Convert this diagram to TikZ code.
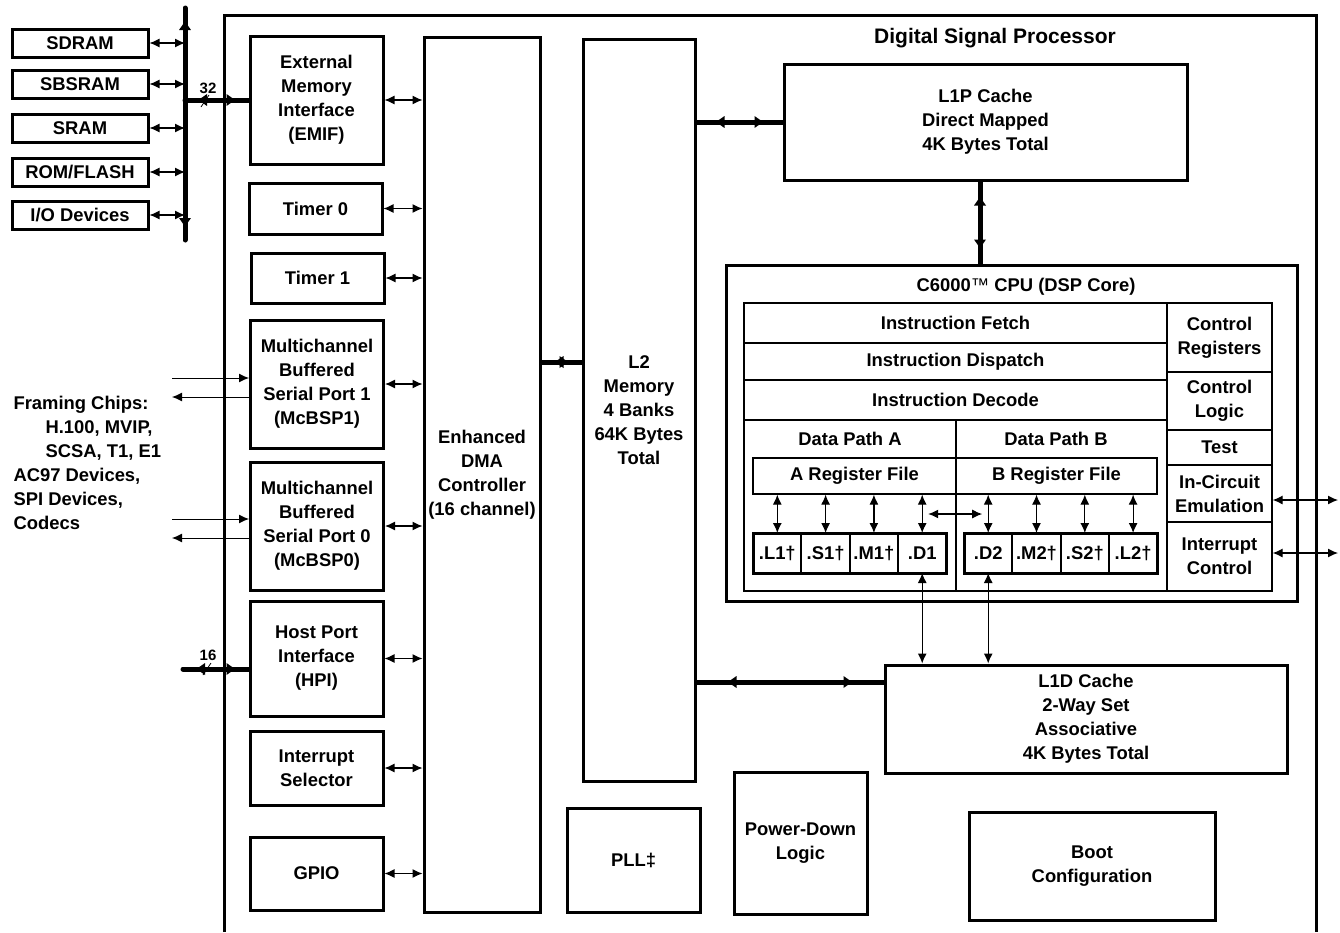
\documentclass[tikz,border=0pt]{standalone}
\usepackage{fontspec}
\setmainfont{Liberation Sans}
\usetikzlibrary{arrows.meta,positioning,decorations.markings}

\begin{document}
\begin{tikzpicture}[x=1pt,y=-1pt,>={Latex[length=10pt,width=9pt]},
    every node/.style={font=\fontsize{18.4}{24}\selectfont\bfseries}]
        \tikzstyle{blk}=[draw,line width=3pt,align=center,inner sep=0pt]
        \tikzstyle{ext}=[blk,minimum width=136pt,minimum height=28pt]
        \tikzstyle{per}=[blk,minimum width=133pt]
        \tikzstyle{cell}=[draw,line width=1.2pt,align=center,inner sep=0pt]
        \tikzstyle{unit}=[draw,line width=2pt,inner sep=0pt,outer sep=0pt,minimum width=48.3pt,minimum height=40pt]
        \tikzstyle{dbl}=[<->,line width=1.2pt]
        \tikzstyle{sig}=[->,line width=1pt]
        \tikzset{bus/.style={line width=5pt,line cap=round,postaction={decorate},decoration={markings,
            mark=at position #1 with {\arrowreversed{Latex[length=10pt,width=13pt]}},
            mark=at position -#1 with {\arrow{Latex[length=10pt,width=13pt]}}}},
            bus/.default=12pt}

        \useasboundingbox (0,0) rectangle (1340,932);

        % external memory side
        \node [ext] (sdram)  at (80,43)  {SDRAM};
        \node [ext] (sbsram) at (80,84)  {SBSRAM};
        \node [ext] (sram)   at (80,128) {SRAM};
        \node [ext] (rom)    at (80,172) {ROM/FLASH};
        \node [ext] (io)     at (80,215) {I/O Devices};
        \coordinate (bustop) at (185,8);
        \coordinate (busbot) at (185,240);
        \draw [bus] (bustop) -- (busbot);
        \foreach \m in {sdram,sbsram,sram,rom,io}
            \draw [dbl] (\m.east) -- (\m.east -| bustop);

        % the DSP
        \draw [line width=3pt] (224,932) -- (224,15) -- (1316,15) -- (1316,932);
        \node [font=\fontsize{21}{24}\selectfont\bfseries] (dsptitle) at (995,38) {Digital Signal Processor};

        % peripherals
        \node [per,minimum height=128pt] (emif)   at (316.5,100)   {External\\Memory\\Interface\\(EMIF)};
        \node [per,minimum height=51pt]  (tmr0)   at (315.5,208.5) {Timer 0};
        \node [per,minimum height=50pt]  (tmr1)   at (317.5,278)   {Timer 1};
        \node [per,minimum height=128pt] (mcbsp1) at (317,384)     {Multichannel\\Buffered\\Serial Port 1\\(McBSP1)};
        \node [per,minimum height=128pt] (mcbsp0) at (317,526)     {Multichannel\\Buffered\\Serial Port 0\\(McBSP0)};
        \node [per,minimum height=115pt] (hpi)    at (316.5,658.5) {Host Port\\Interface\\(HPI)};
        \node [per,minimum height=74pt]  (intsel) at (316.5,768)   {Interrupt\\Selector};
        \node [per,minimum height=73pt]  (gpio)   at (316.5,873.5) {GPIO};

        \node [blk,minimum width=116pt,minimum height=875pt] (edma) at (482,474.5) {Enhanced\\DMA\\Controller\\(16 channel)};
        \node [blk,minimum width=112pt,minimum height=742pt] (l2)   at (639,410)   {L2\\Memory\\4 Banks\\64K Bytes\\Total};
        \foreach \m in {emif,tmr0,tmr1,mcbsp1,mcbsp0,hpi,intsel,gpio}
            \draw [dbl] (\m.east) -- (\m.east -| edma.west);

        % 32 bit EMIF bus
        \draw [bus] (emif.west -| bustop) -- (emif.west);
        \draw [line width=0.8pt] (201,107) -- (209,95);
        \node (w32) at (208,88) {\fontsize{15}{15}\selectfont 32};

        % serial ports
        \coordinate (fr1in)  at (172,378);
        \coordinate (fr1out) at (172,397);
        \coordinate (fr0in)  at (172,519);
        \coordinate (fr0out) at (172,538);
        \draw [sig] (fr1in) -- (fr1in -| mcbsp1.west);
        \draw [sig] (fr1out -| mcbsp1.west) -- (fr1out);
        \draw [sig] (fr0in) -- (fr0in -| mcbsp0.west);
        \draw [sig] (fr0out -| mcbsp0.west) -- (fr0out);
        \node [align=left,anchor=west] (framing) at (10,463) {Framing Chips:\\\hspace*{32pt}H.100, MVIP,\\\hspace*{32pt}SCSA, T1, E1\\AC97 Devices,\\SPI Devices,\\Codecs};

        % 16 bit host bus
        \coordinate (hpiin) at (183,669);
        \draw [bus] (hpiin) -- (hpiin -| hpi.west);
        \draw [line width=0.8pt] (203,675) -- (211,663);
        \node (w16) at (208,655) {\fontsize{15}{15}\selectfont 16};

        % caches
        \node [blk,minimum width=403pt,minimum height=116pt] (l1p) at (985.5,122) {L1P Cache\\Direct Mapped\\4K Bytes Total};
        \node [blk,minimum width=402pt,minimum height=108pt] (l1d) at (1086,719)  {L1D Cache\\2-Way Set\\Associative\\4K Bytes Total};
        \draw [bus] (edma.east |- 0,362) -- (l2.west |- 0,362);
        \draw [bus=18pt] (l2.east |- l1p.west) -- (l1p.west);
        \draw [bus=30pt] (l2.east |- 0,682) -- (l1d.west |- 0,682);

        % CPU core
        \node [blk,minimum width=571pt,minimum height=336pt] (cpu) at (1011.5,433) {};
        \node (cputitle) at (1026,287) {C6000{\mdseries ™} CPU (DSP Core)};
        \draw [bus=14pt] ([xshift=-5.5pt]l1p.south) -- ([xshift=-5.5pt]l1p.south |- cpu.north);

        \node [cell,minimum width=423pt,minimum height=40pt]  (ifetch) at (955.5,323)   {Instruction Fetch};
        \node [cell,minimum width=423pt,minimum height=37pt]  (idisp)  at (955.5,361.5) {Instruction Dispatch};
        \node [cell,minimum width=423pt,minimum height=40pt]  (idec)   at (955.5,400)   {Instruction Decode};
        \node [cell,minimum width=212pt,minimum height=171pt] (dpa)    at (850,505.5)   {};
        \node [cell,minimum width=211pt,minimum height=171pt] (dpb)    at (1061.5,505.5) {};
        \node (dpatxt) at (850,439)  {Data Path A};
        \node (dpbtxt) at (1056,439) {Data Path B};
        \node [cell,minimum width=203pt,minimum height=36pt] (rega) at (854.5,476)  {A Register File};
        \node [cell,minimum width=201pt,minimum height=36pt] (regb) at (1056.5,476) {B Register File};

        \node [cell,minimum width=105pt,minimum height=69pt] (creg) at (1219.5,337.5) {Control\\Registers};
        \node [cell,minimum width=105pt,minimum height=58pt] (clog) at (1219.5,401)   {Control\\Logic};
        \node [cell,minimum width=105pt,minimum height=35pt] (test) at (1219.5,447.5) {Test};
        \node [cell,minimum width=105pt,minimum height=57pt] (ice)  at (1219.5,493.5) {In-Circuit\\Emulation};
        \node [cell,minimum width=105pt,minimum height=69pt] (intc) at (1219.5,556.5) {Interrupt\\Control};

        % functional units
        \node [unit] (ul1) at (777.3,553) {.L1†};
        \node [unit] (us1) [right=0pt of ul1] {.S1†};
        \node [unit] (um1) [right=0pt of us1] {.M1†};
        \node [unit] (ud1) [right=0pt of um1] {.D1};
        \node [unit] (ud2) at (988.2,553) {.D2};
        \node [unit] (um2) [right=0pt of ud2] {.M2†};
        \node [unit] (us2) [right=0pt of um2] {.S2†};
        \node [unit] (ul2) [right=0pt of us2] {.L2†};
        \draw [line width=3pt] (ul1.north west) rectangle (ud1.south east);
        \draw [line width=3pt] (ud2.north west) rectangle (ul2.south east);
        \foreach \u in {ul1,us1,um1,ud1}
            \draw [dbl] (\u.north |- rega.south) -- (\u.north);
        \foreach \u in {ud2,um2,us2,ul2}
            \draw [dbl] (\u.north |- regb.south) -- (\u.north);
        \draw [dbl,shorten <=6pt,shorten >=6pt] (ud1.north |- 0,514) -- (ud2.north |- 0,514);
        \draw [dbl] (ud1.south) -- (ud1.south |- l1d.north);
        \draw [dbl] (ud2.south) -- (ud2.south |- l1d.north);

        % emulation and interrupt pins
        \coordinate (iceout)  at (1338,500);
        \coordinate (intcout) at (1338,553);
        \draw [dbl] (ice.east |- iceout) -- (iceout);
        \draw [dbl] (intc.east |- intcout) -- (intcout);

        % other blocks
        \node [blk,minimum width=133pt,minimum height=104pt] (pll)  at (633.5,860) {PLL‡};
        \node [blk,minimum width=133pt,minimum height=142pt] (pdl)  at (800.5,843) {Power-Down\\Logic};
        \node [blk,minimum width=246pt,minimum height=108pt] (boot) at (1092,866)  {Boot\\Configuration};
\end{tikzpicture}
\end{document}
